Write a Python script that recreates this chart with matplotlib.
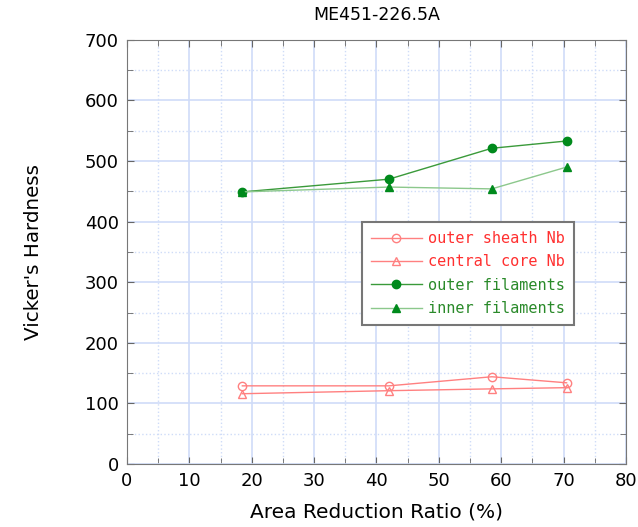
import matplotlib
matplotlib.use("Agg")
import matplotlib.pyplot as plt
from matplotlib.ticker import MultipleLocator

# area reduction ratio (%)
ratio = [18.5, 42.0, 58.5, 70.5]

outer_sheath = [129, 129, 144, 134]
central_core = [116, 121, 124, 126]
outer_fil = [449, 470, 521, 533]
inner_fil = [449, 457, 454, 490]

fig = plt.figure(figsize=(6.38, 5.27), dpi=100)
ax = fig.add_axes([0.199, 0.1195, 0.782, 0.805])

red = "#ff8080"
ax.plot(ratio, outer_sheath, color=red, lw=1, marker="o", ms=6, mfc="none", mec=red,
        label="outer sheath Nb")
ax.plot(ratio, central_core, color=red, lw=1, marker="^", ms=6, mfc="none", mec=red,
        label="central core Nb")
ax.plot(ratio, outer_fil, color="#3a9a3a", lw=1, marker="o", ms=6, mfc="#008a1c", mec="#008a1c",
        label="outer filaments")
ax.plot(ratio, inner_fil, color="#8cc88c", lw=1, marker="^", ms=6, mfc="#008a1c", mec="#008a1c",
        label="inner filaments")

ax.set_xlim(0, 80)
ax.set_ylim(0, 700)
ax.xaxis.set_major_locator(MultipleLocator(10))
ax.xaxis.set_minor_locator(MultipleLocator(5))
ax.yaxis.set_major_locator(MultipleLocator(100))
ax.yaxis.set_minor_locator(MultipleLocator(50))
ax.grid(which="major", color="#cfdcf8", lw=1.2, ls="-")
ax.grid(which="minor", color="#cfdcf8", lw=1, ls=":")
ax.set_axisbelow(True)
ax.tick_params(which="both", direction="in", top=True, right=True, color="#666666")
ax.tick_params(which="major", length=5, labelsize=13, pad=6)
ax.tick_params(which="minor", length=4)
for s in ax.spines.values():
    s.set_color("#777777")

ax.set_xlabel("Area Reduction Ratio (%)", fontsize=14.5, labelpad=9)
ax.set_ylabel("Vicker's Hardness", fontsize=14.3, labelpad=30)
ax.set_title("ME451-226.5A", fontsize=12.5, pad=14)

leg = ax.legend(loc="upper left", bbox_to_anchor=(0.471, 0.571), frameon=True, fancybox=False,
                framealpha=1, prop={"family": "DejaVu Sans Mono", "size": 11},
                handlelength=3.3, labelspacing=0.55, borderpad=0.6, handletextpad=0.4,
                borderaxespad=0)
leg.get_frame().set_edgecolor("#777777")
leg.get_frame().set_linewidth(1.5)
for txt, c in zip(leg.get_texts(), ["#ff3030", "#ff3030", "#2a8a2a", "#2a8a2a"]):
    txt.set_color(c)

fig.savefig("out.png", dpi=100)
